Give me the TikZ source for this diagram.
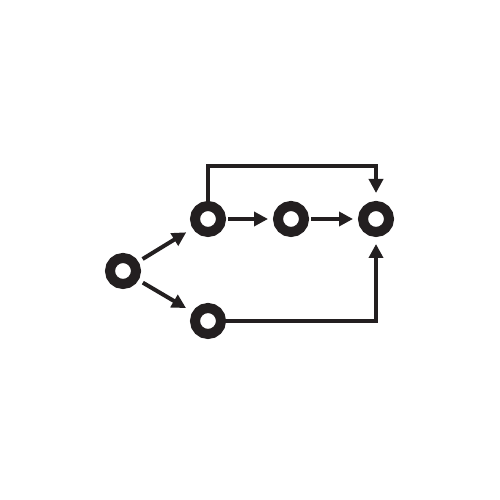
\documentclass[tikz,border=0pt]{standalone}
\usepackage{tikz}
\usetikzlibrary{arrows.meta}
\definecolor{ink}{HTML}{231F20}
\tikzstyle{stage} = [circle,draw=ink,line width=0.2cm,minimum size=0.52cm,inner sep=0pt]
\tikzstyle{arrow} = [draw=ink,line width=0.08cm,-{Triangle[length=0.28cm,width=0.28cm]}]

\begin{document}
\begin{tikzpicture}
            \fill[white] (0,0) rectangle (10,10);
            \useasboundingbox (0,0) rectangle (10,10);
            % stages
            \node[stage] (start) at (2.46,4.58) {};
            \node[stage] (upper) at (4.16,5.62) {};
            \node[stage] (middle) at (5.82,5.62) {};
            \node[stage] (finish) at (7.52,5.62) {};
            \node[stage] (lower) at (4.16,3.58) {};
            % links
            \draw[arrow,shorten <=0.1cm,shorten >=0.15cm] (start) -- (upper);
            \draw[arrow,shorten <=0.1cm,shorten >=0.15cm] (start) -- (lower);
            \draw[arrow,shorten <=0.04cm,shorten >=0.1cm] (upper) -- (middle);
            \draw[arrow,shorten <=0.04cm,shorten >=0.1cm] (middle) -- (finish);
            \draw[arrow,shorten >=0.16cm] (upper.north) -- ++(0,0.7) -| (finish.north);
            \draw[arrow,shorten >=0.14cm] (lower.east) -| (finish.south);
        \end{tikzpicture}
\end{document}
